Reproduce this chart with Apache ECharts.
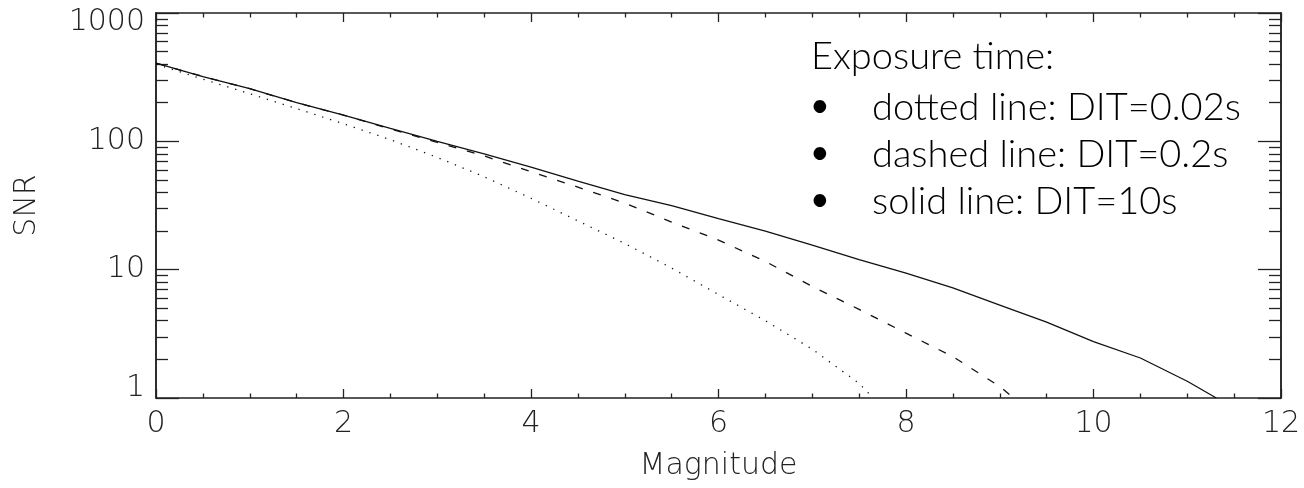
<!DOCTYPE html>
<html>
<head>
<meta charset="utf-8">
<script src="https://cdn.jsdelivr.net/npm/echarts@6/dist/echarts.min.js"></script>
<style>
html,body{margin:0;padding:0;background:#fff;}
#chart{width:1304px;height:488px;}
</style>
</head>
<body>
<div id="chart"></div>
<script>
// Magnitude sample points and SNR values
const solidMag = [0,0.5,1,1.5,2,2.5,3,3.5,4,4.5,5,5.5,6,6.5,7,7.5,8,8.5,9,9.5,10,10.5,11,11.31];
const solidSNR = [407,320,257,200,160,126,100,80,63,49,38.5,31.5,25,20,15.5,12,9.4,7.2,5.3,3.9,2.75,2.05,1.35,1.0];

const dashedMag = [0,0.5,1,1.5,2,2.5,3,3.5,4,4.5,5,5.5,6,6.5,7,7.5,8,8.5,9,9.15];
const dashedSNR = [407,320,257,200,160,125,98,77,58,44,33,23.5,17,11.6,7.4,4.9,3.2,2.1,1.23,1.0];

const dottedMag = [0,0.5,1,1.5,2,2.5,3,3.5,4,4.5,5,5.5,6,6.5,7,7.5,7.65];
const dottedSNR = [400,305,235,180,137,103,75,53,36,24,16,10.3,6.4,4.0,2.4,1.3,1.0];

const yMajorTicks = [1,10,100,1000];
const yMinorTicks = [2,3,4,5,6,7,8,9,20,30,40,50,60,70,80,90,200,300,400,500,600,700,800,900];

const legendTitle = 'Exposure time:';
const legendItems = ['dotted line: DIT=0.02s','dashed line: DIT=0.2s','solid line: DIT=10s'];

const pairs = (xs, ys) => xs.map((x, i) => [x, ys[i]]);

const lineCol = '#111';
const axisCol = '#222';
const labelFont = {fontFamily: 'DejaVu Sans', fontWeight: 200, fontSize: 30, color: '#222'};
const legendFont = '300 38px Lato';

const chart = echarts.init(document.getElementById('chart'));

const xBase = {
  type: 'value', min: 0, max: 12, interval: 2,
  axisLine: {show: true, onZero: false, lineStyle: {color: axisCol, width: 1.5}},
  axisTick: {show: true, inside: true, length: 9, lineStyle: {color: axisCol, width: 1.3}},
  minorTick: {show: true, splitNumber: 4, length: 4.5, lineStyle: {color: axisCol, width: 1.3}},
  splitLine: {show: false}, minorSplitLine: {show: false}
};

const yBase = {
  type: 'log', logBase: 10, min: 1, max: 1000,
  axisLine: {show: true, onZero: false, lineStyle: {color: axisCol, width: 1.5}},
  splitLine: {show: false}
};

const option = {
  animation: false,
  backgroundColor: '#fff',
  grid: {left: 156, right: 23, top: 13, bottom: 90, containLabel: false},
  xAxis: [
    Object.assign({}, xBase, {
      position: 'bottom',
      name: 'Magnitude', nameLocation: 'middle', nameGap: 53,
      nameTextStyle: labelFont,
      axisLabel: Object.assign({show: true, margin: 11}, labelFont)
    }),
    Object.assign({}, xBase, {position: 'top', axisLabel: {show: false}})
  ],
  yAxis: [
    Object.assign({}, yBase, {
      position: 'left',
      name: 'SNR', nameLocation: 'middle', nameGap: 114, nameRotate: 90,
      nameTextStyle: labelFont,
      axisTick: {show: true, inside: true, length: 23, customValues: yMajorTicks, lineStyle: {color: axisCol, width: 1.3}},
      axisLabel: Object.assign({
        show: true, margin: 11, customValues: yMajorTicks,
        formatter: function (v) {
          if (v <= 1) return '{lo|' + v + '}';
          if (v >= 1000) return '{hi|' + v + '}';
          return '{n|' + v + '}';
        },
        rich: {
          lo: Object.assign({padding: [0, 0, 20, 0]}, labelFont),
          hi: Object.assign({padding: [18, 0, 0, 0]}, labelFont),
          n: Object.assign({}, labelFont)
        }
      }, labelFont)
    }),
    Object.assign({}, yBase, {
      position: 'left',
      axisTick: {show: true, inside: true, length: 12, customValues: yMinorTicks, lineStyle: {color: axisCol, width: 1.3}},
      axisLabel: {show: false}
    }),
    Object.assign({}, yBase, {
      position: 'right',
      axisTick: {show: true, inside: true, length: 23, customValues: yMajorTicks, lineStyle: {color: axisCol, width: 1.3}},
      axisLabel: {show: false}
    }),
    Object.assign({}, yBase, {
      position: 'right',
      axisTick: {show: true, inside: true, length: 12, customValues: yMinorTicks, lineStyle: {color: axisCol, width: 1.3}},
      axisLabel: {show: false}
    })
  ],
  series: [
    {type: 'line', name: 'solid', data: pairs(solidMag, solidSNR), showSymbol: false, symbol: 'none',
     lineStyle: {color: lineCol, width: 1.3, type: 'solid'}},
    {type: 'line', name: 'dashed', data: pairs(dashedMag, dashedSNR), showSymbol: false, symbol: 'none',
     lineStyle: {color: lineCol, width: 1.3, type: [8, 11]}},
    {type: 'line', name: 'dotted', data: pairs(dottedMag, dottedSNR), showSymbol: false, symbol: 'none',
     lineStyle: {color: lineCol, width: 1.3, type: [1.3, 7]}}
  ],
  graphic: [
    {type: 'text', x: 811, y: 38, style: {text: legendTitle, font: legendFont, fill: '#000', verticalAlign: 'top'}}
  ].concat(legendItems.flatMap((t, i) => [
    {type: 'text', x: 810, y: 89 + i * 47, style: {text: '\u2022', font: '34px Lato', fill: '#000', verticalAlign: 'top'}},
    {type: 'text', x: 872, y: 89 + i * 47, style: {text: t, font: legendFont, fill: '#000', verticalAlign: 'top'}}
  ]))
};

chart.setOption(option);
</script>
</body>
</html>
